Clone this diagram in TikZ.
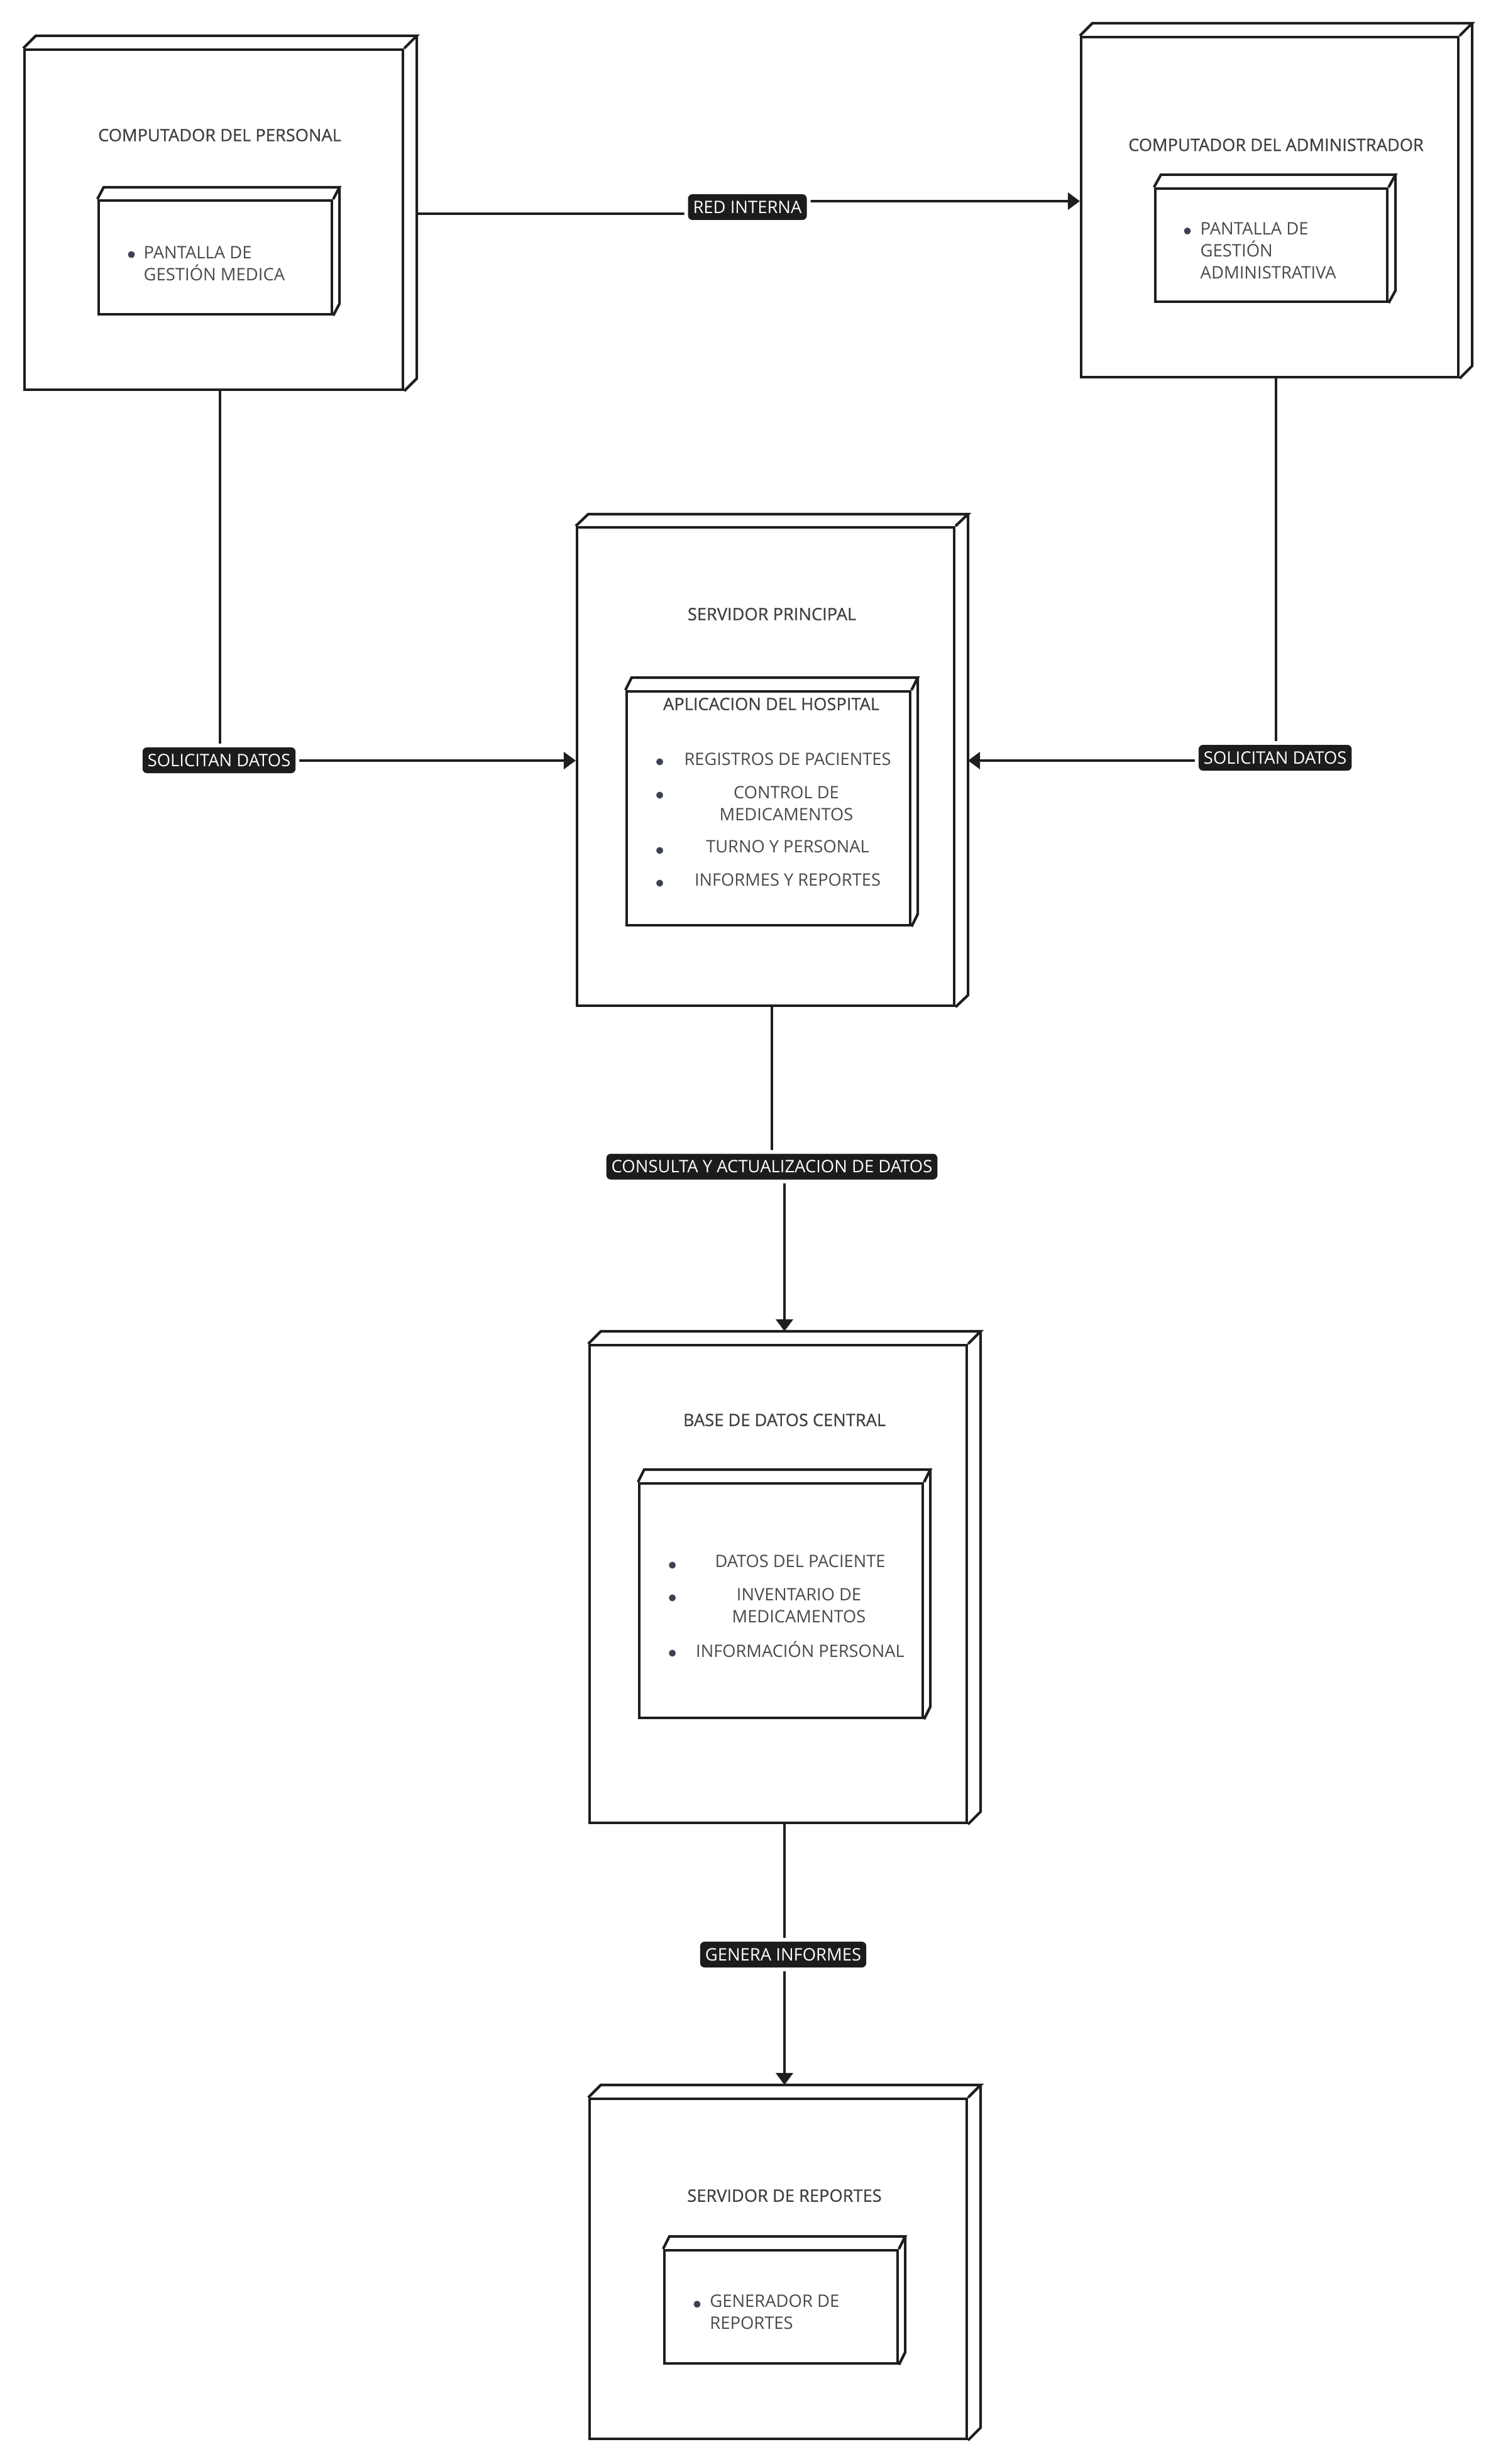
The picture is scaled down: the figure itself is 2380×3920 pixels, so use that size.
\documentclass[tikz,border=0pt]{standalone}
\usepackage{fontspec}
\setmainfont{Open Sans}
\newfontfamily\semib[FakeBold=0.6]{Open Sans}
\usetikzlibrary{arrows.meta,calc}
\definecolor{linec}{HTML}{1E1E1E}
\definecolor{titc}{HTML}{3F3F3F}
\definecolor{itemc}{HTML}{4A4A4A}
\definecolor{bulc}{HTML}{3B4252}
\definecolor{labbg}{HTML}{1C1C1C}
\newcommand\depthfaces[3]{%
  \draw[edge] (#1.north west) -- ++(#2,-#3) -- ($(#1.north east)+(#2,-#3)$) -- (#1.north east);
  \draw[edge] ($(#1.north east)+(#2,-#3)$) -- ($(#1.south east)+(#2,-#3)$) -- (#1.south east);}
\begin{document}
\begin{tikzpicture}[x=0.1mm,y=-0.1mm,
  edge/.style={draw=linec, line width=0.42mm, line join=miter},
  outerbox/.style={draw=linec, line width=0.42mm, fill=white, inner sep=0pt},
  innerbox/.style={draw=linec, line width=0.42mm, fill=white, inner sep=0pt},
  titletext/.style={text=titc, font=\semib\fontsize{7.75}{10}\selectfont, inner sep=0pt},
  itemtext/.style={text=itemc, font=\fontsize{7.8}{9.9}\selectfont, inner sep=0pt},
  bigitem/.style={text=itemc, font=\fontsize{7.75}{9.9}\selectfont, inner sep=0pt, align=center},
  bul/.style={fill=bulc},
  conn/.style={draw=linec, line width=0.4mm},
  arr/.style={-{Triangle[length=1.9mm,width=2.7mm]}},
  lab/.style={fill=labbg, text=white, rounded corners=0.7mm, font=\fontsize{7.8}{9}\selectfont,
    inner xsep=0.8mm, inner ysep=0pt, minimum height=4.1mm,
    preaction={draw=white, line width=1.2mm}}
]
\useasboundingbox (0,0) rectangle (2380,3920);
\fill[white] (0,0) rectangle (2380,3920);

% ---------- outer nodes ----------
\node[outerbox, minimum width=60.2mm, minimum height=54.1mm] (per) at (340,349.5) {};
\depthfaces{per}{20}{20}
\node[outerbox, minimum width=60.0mm, minimum height=54.1mm] (adm) at (2020,329.5) {};
\depthfaces{adm}{20}{20}
\node[outerbox, minimum width=60.0mm, minimum height=76.1mm] (ser) at (1218,1219.5) {};
\depthfaces{ser}{20}{19}
\node[outerbox, minimum width=60.0mm, minimum height=76.0mm] (db) at (1238,2520) {};
\depthfaces{db}{20}{20}
\node[outerbox, minimum width=60.0mm, minimum height=54.1mm] (rep) at (1238,3609.5) {};
\depthfaces{rep}{20}{20}

% ---------- titles ----------
\node[titletext] (perT) at (349.5,215) {COMPUTADOR DEL PERSONAL};
\node[titletext] (admT) at (2030,230.5) {COMPUTADOR DEL ADMINISTRADOR};
\node[titletext] (serT) at (1228,977) {SERVIDOR PRINCIPAL};
\node[titletext] (dbT) at (1248,2259) {BASE DE DATOS CENTRAL};
\node[titletext] (repT) at (1248,3493) {SERVIDOR DE REPORTES};

% ---------- inner nodes ----------
\node[innerbox, minimum width=37.1mm, minimum height=18.1mm] (perI) at (342.5,409.5) {};
\depthfaces{perI}{10}{19}
\node[innerbox, minimum width=36.9mm, minimum height=18.0mm] (admI) at (2022.5,390) {};
\depthfaces{admI}{11}{20}
\node[innerbox, minimum width=45.1mm, minimum height=37.2mm] (serI) at (1222.5,1286) {};
\depthfaces{serI}{10}{20}
\node[innerbox, minimum width=45.1mm, minimum height=37.3mm] (dbI) at (1242.5,2546.5) {};
\depthfaces{dbI}{10}{20}
\node[innerbox, minimum width=37.1mm, minimum height=18.0mm] (repI) at (1242.5,3670) {};
\depthfaces{repI}{10}{20}

% ---------- inner contents ----------
\fill[bul] (209,405) circle (0.55mm);
\node[itemtext, anchor=west, align=left] (perL) at (228,419) {PANTALLA DE\\GESTIÓN MEDICA};

\fill[bul] (1889,367.5) circle (0.55mm);
\node[itemtext, anchor=west, align=left] (admL) at (1909,399) {PANTALLA DE\\GESTIÓN\\ADMINISTRATIVA};

\fill[bul] (1109,3665.7) circle (0.55mm);
\node[itemtext, anchor=west, align=left] (repL) at (1128.6,3678) {GENERADOR DE\\REPORTES};

\node[titletext] (serIT) at (1227,1120) {APLICACION DEL HOSPITAL};
\fill[bul] (1049.5,1212) circle (0.55mm);
\fill[bul] (1049.5,1265) circle (0.55mm);
\fill[bul] (1049.5,1353) circle (0.55mm);
\fill[bul] (1049.5,1405) circle (0.55mm);
\node[bigitem] (s1) at (1253,1208) {REGISTROS DE PACIENTES};
\node[bigitem] (s2) at (1251,1278) {CONTROL DE\\MEDICAMENTOS};
\node[bigitem] (s3) at (1253,1347) {TURNO Y PERSONAL};
\node[bigitem] (s4) at (1253,1400) {INFORMES Y REPORTES};

\fill[bul] (1069.6,2490) circle (0.55mm);
\fill[bul] (1069.6,2542) circle (0.55mm);
\fill[bul] (1069.6,2630) circle (0.55mm);
\node[bigitem] (d1) at (1273,2484) {DATOS DEL PACIENTE};
\node[bigitem] (d2) at (1271,2554) {INVENTARIO DE\\MEDICAMENTOS};
\node[bigitem] (d3) at (1273,2624) {INFORMACIÓN PERSONAL};

% ---------- connectors ----------
\draw[conn, arr] ($(per.east)+(20,-9.5)$) -- (1189,340) -- (1189,320) -- ($(adm.west)+(0,-9.5)$);
\draw[conn, arr] ($(per.south)+(10,0)$) -- (350,1210) -- ($(ser.west)+(0,-9.5)$);
\draw[conn, arr] ($(adm.south)+(10,0)$) -- (2030,1210) -- ($(ser.east)+(20,-9.5)$);
\draw[conn, arr] ($(ser.south)+(10,0)$) -- (1228,1856) -- (1248,1856) -- ($(db.north)+(10,-20)$);
\draw[conn, arr] ($(db.south)+(10,0)$) -- ($(rep.north)+(10,-20)$);

% ---------- labels ----------
\node[lab] (l1) at (1189,329.5) {RED INTERNA};
\node[lab] (l2) at (348.5,1209.5) {SOLICITAN DATOS};
\node[lab] (l3) at (2028.7,1205.5) {SOLICITAN DATOS};
\node[lab] (l4) at (1228,1856) {CONSULTA Y ACTUALIZACION DE DATOS};
\node[lab] (l5) at (1246,3109.5) {GENERA INFORMES};
\end{tikzpicture}
\end{document}
